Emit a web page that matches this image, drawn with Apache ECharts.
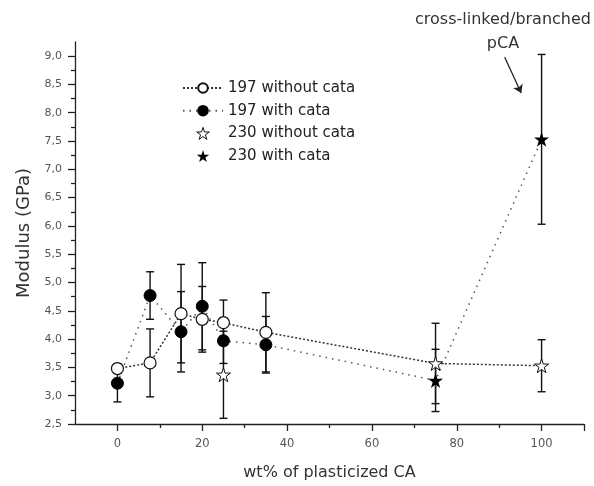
<!DOCTYPE html>
<html>
<head>
<meta charset="utf-8">
<script src="https://cdn.jsdelivr.net/npm/echarts@6/dist/echarts.min.js"></script>
<style>
  html, body { margin: 0; padding: 0; background: #fff; }
  #main { width: 594px; height: 486px; }
</style>
</head>
<body>
<div id="main"></div>
<script>
  // x values (wt% of plasticized CA)
  const xs197 = [0, 7.7, 15, 20, 25, 35];
  const y197Open = [3.48, 3.58, 4.45, 4.35, 4.29, 4.12];
  const e197Open = [0.08, 0.6, 0.87, 0.58, 0.4, 0.7];
  const y197Filled = [3.22, 4.77, 4.13, 4.58, 3.97, 3.9];
  const e197Filled = [0.33, 0.42, 0.71, 0.77, 0.4, 0.5];

  const xs230Open = [25, 75, 100];
  const y230Open = [3.37, 3.57, 3.53];
  const e230Open = [0.77, 0.71, 0.46];
  const xs230Filled = [75, 100];
  const y230Filled = [3.27, 7.53];
  const e230Filled = [0.55, 1.5];

  const xTicks = [0, 20, 40, 60, 80, 100, 110];
  const xLabels = [0, 20, 40, 60, 80, 100];
  const yTicks = [2.5, 3, 3.5, 4, 4.5, 5, 5.5, 6, 6.5, 7, 7.5, 8, 8.5, 9];

  const arrowFrom = [91.3, 8.98];
  const arrowTo = [95.2, 8.35];

  const seriesNames = ['197 without cata', '197 with cata', '230 without cata', '230 with cata'];

  const starPath = 'path://M50 0 L61.23 34.55 L97.55 34.55 L68.16 55.9 L79.39 90.45 L50 69.1 L20.61 90.45 L31.84 55.9 L2.45 34.55 L38.77 34.55 Z';

  function pts(xs, ys) {
    return xs.map((x, i) => [x, ys[i]]);
  }
  function errPts(xs, ys, es) {
    return xs.map((x, i) => [x, ys[i], es[i]]);
  }
  // line through circle points, continuing to the star points without markers
  function lineData(xs, ys, xsTail, ysTail) {
    let d = pts(xs, ys);
    for (let i = 0; i < xsTail.length; i++) {
      if (xsTail[i] <= xs[xs.length - 1]) continue;
      d.push({ value: [xsTail[i], ysTail[i]], symbol: 'none' });
    }
    return d;
  }

  function errorBar(data) {
    return {
      type: 'custom',
      silent: true,
      z: 1,
      data: data,
      renderItem: function (params, api) {
        let x = api.value(0), y = api.value(1), e = api.value(2);
        let top = api.coord([x, y + e]);
        let bot = api.coord([x, y - e]);
        let w = 4;
        let st = { stroke: '#111', lineWidth: 1.4 };
        return {
          type: 'group',
          children: [
            { type: 'line', shape: { x1: top[0], y1: top[1], x2: bot[0], y2: bot[1] }, style: st },
            { type: 'line', shape: { x1: top[0] - w, y1: top[1], x2: top[0] + w, y2: top[1] }, style: st },
            { type: 'line', shape: { x1: bot[0] - w, y1: bot[1], x2: bot[0] + w, y2: bot[1] }, style: st }
          ]
        };
      }
    };
  }

  let font = 'DejaVu Sans';
  let chart = echarts.init(document.getElementById('main'), null, { renderer: 'canvas' });
  chart.setOption({
    animation: false,
    backgroundColor: '#fff',
    grid: { left: 75, right: 10, top: 42, bottom: 62 },
    legend: {
      orient: 'vertical',
      left: 182,
      top: 80,
      padding: 0,
      itemWidth: 40,
      itemHeight: 12,
      itemGap: 6.7,
      data: [
        { name: seriesNames[0] },
        { name: seriesNames[1] },
        { name: seriesNames[2], icon: starPath, itemStyle: { color: '#fff', borderColor: '#111', borderWidth: 1, opacity: 1 } },
        { name: seriesNames[3], icon: starPath, itemStyle: { color: '#000', opacity: 1 } }
      ],
      textStyle: { fontFamily: font, fontSize: 15, lineHeight: 16, color: '#222' }
    },
    xAxis: {
      type: 'value',
      min: -10,
      max: 110,
      splitNumber: 6,
      name: 'wt% of plasticized CA',
      nameLocation: 'middle',
      nameGap: 41,
      nameTextStyle: { fontFamily: font, fontSize: 16, color: '#333' },
      axisLine: { onZero: false, lineStyle: { color: '#222', width: 1.3 } },
      axisTick: { customValues: xTicks, length: 7, lineStyle: { color: '#222', width: 1.3 } },
      minorTick: { show: true, splitNumber: 2, length: 4, lineStyle: { color: '#222', width: 1.3 } },
      axisLabel: {
        customValues: xLabels,
        fontFamily: font, fontSize: 11.5, color: '#555', margin: 14
      },
      splitLine: { show: false }
    },
    yAxis: {
      type: 'value',
      min: 2.5,
      max: 9.25,
      interval: 0.5,
      name: 'Modulus (GPa)',
      nameLocation: 'middle',
      nameGap: 42,
      nameTextStyle: { fontFamily: font, fontSize: 18, color: '#333' },
      axisLine: { show: true, onZero: false, lineStyle: { color: '#222', width: 1.3 } },
      axisTick: { show: true, customValues: yTicks, length: 7, lineStyle: { color: '#222', width: 1.3 } },
      minorTick: { show: true, splitNumber: 2, length: 4, lineStyle: { color: '#222', width: 1.3 } },
      axisLabel: {
        customValues: yTicks,
        fontFamily: font, fontSize: 11, color: '#555', margin: 13,
        formatter: function (v) { return v.toFixed(1).replace('.', ','); }
      },
      splitLine: { show: false }
    },
    graphic: [{
      type: 'text',
      x: 503,
      y: 8,
      style: {
        text: 'cross-linked/branched\npCA',
        font: '16px "DejaVu Sans"',
        fill: '#333',
        textAlign: 'center',
        lineHeight: 24
      }
    }],
    series: [
      errorBar(errPts(xs197, y197Open, e197Open)),
      errorBar(errPts(xs197, y197Filled, e197Filled)),
      errorBar(errPts(xs230Open, y230Open, e230Open)),
      errorBar(errPts(xs230Filled, y230Filled, e230Filled)),
      {
        name: seriesNames[0],
        type: 'line',
        z: 3,
        data: lineData(xs197, y197Open, xs230Open, y230Open),
        symbol: 'circle',
        symbolSize: 12,
        showAllSymbol: true,
        itemStyle: { color: '#fff', borderColor: '#111', borderWidth: 1.2 },
        lineStyle: { color: '#333', width: 1.5, type: [2, 2] }
      },
      {
        name: seriesNames[1],
        type: 'line',
        z: 2,
        data: lineData(xs197, y197Filled, xs230Filled, y230Filled),
        symbol: 'circle',
        symbolSize: 12,
        showAllSymbol: true,
        itemStyle: { color: '#000', borderColor: '#000', borderWidth: 1 },
        lineStyle: { color: '#555', width: 1.5, type: [1.5, 5] }
      },
      {
        name: seriesNames[2],
        type: 'scatter',
        z: 4,
        data: pts(xs230Open, y230Open),
        symbol: starPath,
        symbolSize: 14,
        itemStyle: { color: '#fff', borderColor: '#111', borderWidth: 1, opacity: 1 }
      },
      {
        name: seriesNames[3],
        type: 'scatter',
        z: 4,
        data: pts(xs230Filled, y230Filled),
        symbol: starPath,
        symbolSize: 15,
        itemStyle: { color: '#000', opacity: 1 },
        markLine: {
          silent: true,
          symbol: ['none', 'arrow'],
          symbolSize: 8,
          label: { show: false },
          lineStyle: { color: '#222', width: 1.3, type: 'solid' },
          data: [[{ coord: arrowFrom }, { coord: arrowTo }]]
        }
      }
    ]
  });
</script>
</body>
</html>
